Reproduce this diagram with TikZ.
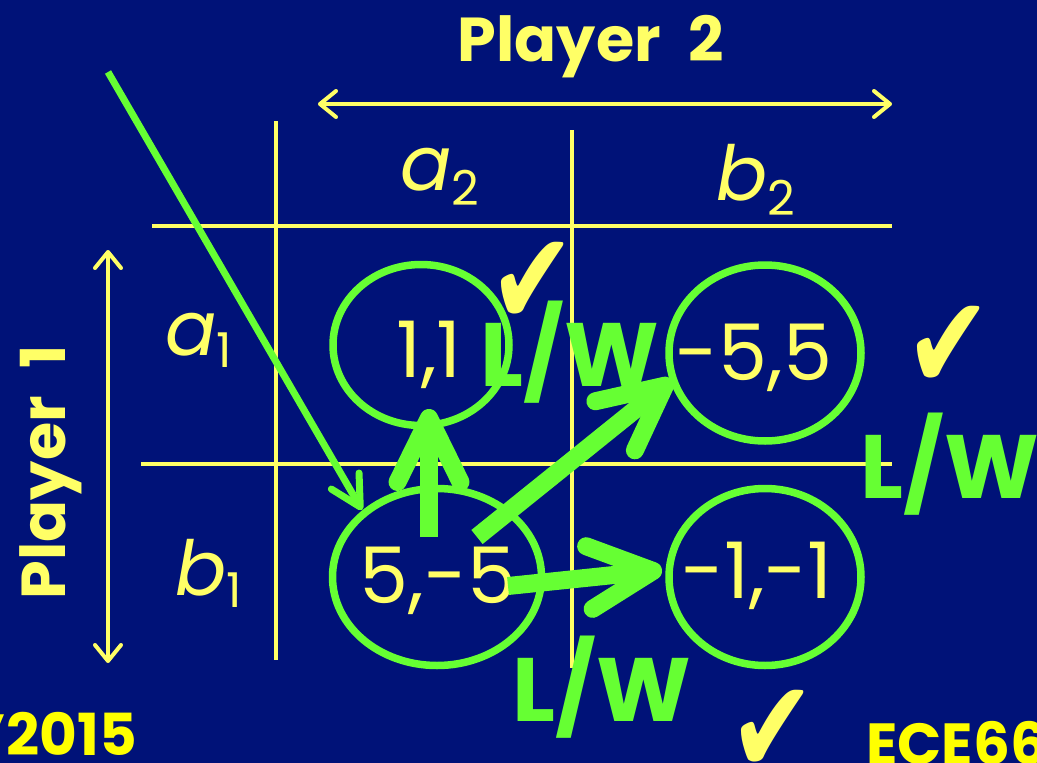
\documentclass[tikz,border=0pt]{standalone}
\usepackage{fontspec}
\setmainfont{Poppins}
\newfontfamily\symfont{DejaVu Sans}
\usetikzlibrary{arrows.meta,shapes.geometric}
\definecolor{bg}{RGB}{0,18,120}
\definecolor{pale}{RGB}{255,255,102}
\definecolor{brite}{RGB}{255,255,0}
\definecolor{grn}{RGB}{102,255,51}
\begin{document}
\begin{tikzpicture}[x=1pt,y=-1pt,
 gridline/.style={pale,line width=4.5pt},
 dblarrow/.style={pale,line width=4pt,{Straight Barb[length=16pt,width=26pt,round]}-{Straight Barb[length=16pt,width=26pt,round]}},
 oval/.style={ellipse,draw=grn,line width=7.5pt,inner sep=0pt},
 payoff/.style={pale,inner sep=0pt,font=\fontsize{78}{80}\selectfont},
 strat/.style={pale,inner sep=0pt,font=\fontsize{76}{80}\selectfont\itshape},
 title/.style={pale,inner sep=0pt,font=\fontsize{62}{70}\selectfont\bfseries},
 lw/.style={grn,inner sep=0pt,font=\fontsize{90}{100}\selectfont\bfseries},
 tick/.style={pale,inner sep=0pt,font=\symfont\fontsize{132}{140}\selectfont,xscale=0.78},
 bigarrow/.style={grn,line width=18pt,-{Straight Barb[length=64pt,width=63pt,round]}},
 thinarrow/.style={grn,line width=7pt,-{Straight Barb[length=30pt,width=32pt,round]}},
 corner/.style={brite,inner sep=0pt,font=\fontsize{58}{60}\selectfont\bfseries}
]
\fill[bg] (0,0) rectangle (1037,763);
\useasboundingbox (0,0) rectangle (1037,763);
\clip (0,0) rectangle (1037,763);

% grid
\draw[gridline] (276,121) -- (276,660);
\draw[gridline] (572,130) -- (572,668);
\draw[gridline] (152,226) -- (892,226);
\draw[gridline] (141,464) -- (892,464);

% player axes
\coordinate (h0) at (318,104); \coordinate (h1) at (892,104);
\draw[dblarrow] (h0) -- (h1);
\coordinate (v0) at (108,250); \coordinate (v1) at (108,663);
\draw[dblarrow] (v0) -- (v1);

\node[title,anchor=base] (p2) at (591,61) {Player\hspace{0.45em}2};
\node[title,anchor=base,rotate=90] (p1) at (65,472) {Player\hspace{0.45em}1};

% strategies
\node[strat,anchor=base west] (a2) at (400,190) {a\raisebox{-15pt}{\fontsize{48}{50}\selectfont\upshape 2}};
\node[strat,anchor=base west] (b2) at (716,200) {b\raisebox{-15pt}{\fontsize{48}{50}\selectfont\upshape 2}};
\node[strat,anchor=base west] (a1) at (165,355) {a\raisebox{-12pt}{\fontsize{48}{50}\selectfont\upshape 1}};
\node[strat,anchor=base west] (b1) at (175,595) {b\raisebox{-12pt}{\fontsize{48}{50}\selectfont\upshape 1}};

% ovals
\node[oval,minimum width=176pt,minimum height=161pt] (e11) at (421,345) {};
\node[oval,minimum width=209pt,minimum height=177pt] (e5m5) at (437,577) {};
\node[oval,minimum width=192pt,minimum height=176pt] (em55) at (765,353) {};
\node[oval,minimum width=192pt,minimum height=177pt] (em1m1) at (765,577) {};

% payoffs
\node[payoff,anchor=base] (t11) at (429,377) {1,1};
\node[payoff,anchor=base] (t5m5) at (438,603) {5,-5};
\node[payoff,anchor=base] (tm55) at (754,380) {-5,5};
\node[payoff,anchor=base] (tm1m1) at (757,598) {-1,-1};

% checks
\node[tick,anchor=base] (c1) at (533,325) {✔};
\node[tick,anchor=base] (c2) at (949,389) {✔};
\node[tick,anchor=base] (c3) at (773,773) {✔};

% L/W labels
\node[lw,anchor=base] (lw1) at (570,386) {L/W};
\node[lw,anchor=base] (lw2) at (950,498) {L/W};
\node[lw,anchor=base] (lw3) at (602,721) {L/W};

% arrows
\coordinate (s0) at (108,72); \coordinate (s1) at (362,510);
\draw[thinarrow] (s0) -- (s1);
\coordinate (u0) at (429,537); \coordinate (u1) at (429,409);
\draw[bigarrow] (u0) -- (u1);
\coordinate (d0) at (477,537); \coordinate (d1) at (672,380);
\draw[bigarrow] (d0) -- (d1);
\coordinate (r0) at (508,586); \coordinate (r1) at (662,570);
\draw[bigarrow] (r0) -- (r1);

% corners
\node[corner,anchor=base east] (yr) at (137,755) {'2015};
\node[corner,anchor=base west] (ece) at (866,764) {ECE66};
\end{tikzpicture}
\end{document}
